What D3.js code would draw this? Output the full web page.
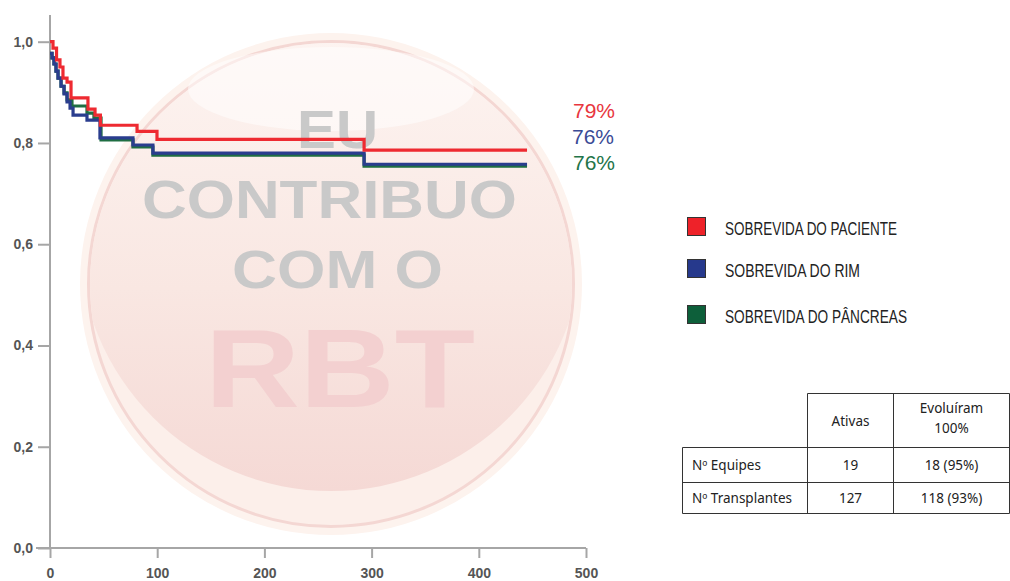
<!DOCTYPE html>
<html>
<head>
<meta charset="utf-8">
<script src="https://cdnjs.cloudflare.com/ajax/libs/d3/7.8.5/d3.min.js"></script>
<style>
  body { margin: 0; background: #fff; }
  .axis path { display: none; }
  .axis line { stroke: #a6a6a6; stroke-width: 2; }
  .axis text { font: bold 14px "Liberation Sans", Arial, sans-serif; fill: #555; }
  .curve { fill: none; stroke-width: 3.2; }
  .wm { font-family: "Liberation Sans", Arial, sans-serif; font-weight: bold; }
  .leg { font-family: "Liberation Sans Narrow", "Liberation Sans", Arial, sans-serif; font-size: 18px; fill: #222; }
  .pct { font-family: "Liberation Sans", Arial, sans-serif; font-size: 21px; }
  .tbl { font-family: "Noto Sans", "Open Sans", sans-serif; font-size: 13.5px; fill: #222; }
</style>
</head>
<body>
<div id="viz"></div>
<script>
  // survival curves: [day, survival]
  var patient = [[0,1.0],[2.8,0.9875],[6.1,0.964],[9.3,0.95],[12.1,0.928],[15.9,0.92],[19.6,0.889],
    [35.4,0.867],[42,0.855],[47,0.835],[81.2,0.823],[99.8,0.807],[293,0.786],[445,0.786]];
  var kidney = [[0,0.977],[1.9,0.968],[3.7,0.956],[5.6,0.942],[7.5,0.928],[10.3,0.912],[13.1,0.897],
    [15.9,0.881],[18.7,0.869],[21.5,0.855],[34.5,0.845],[46.6,0.81],[77.4,0.796],[96,0.78],[293,0.758],[445,0.758]];
  var pancreas = [[0,0.977],[1.9,0.968],[3.7,0.956],[5.6,0.942],[7.5,0.928],[10.3,0.912],[13.1,0.899],
    [15.9,0.885],[20.5,0.873],[34.5,0.859],[41,0.849],[47.6,0.806],[77.4,0.792],[96,0.776],[293,0.754],[445,0.754]];

  var seriesNames = ["SOBREVIDA DO PACIENTE", "SOBREVIDA DO RIM", "SOBREVIDA DO PÂNCREAS"];
  var seriesColors = ["#ee2229", "#26398c", "#0d5f3a"];
  var lineColors = ["#ee2a31", "#2a3d8e", "#1f6e42"];
  var endLabels = ["79%", "76%", "76%"];
  var labelColors = ["#e8363e", "#3b4b96", "#237449"];

  var xTicks = [0, 100, 200, 300, 400, 500];
  var yTicks = [0, 0.2, 0.4, 0.6, 0.8, 1.0];

  var tableHeader = ["Ativas", "Evoluíram|100%"];
  var tableRows = [["Nº Equipes", "19", "18 (95%)"], ["Nº Transplantes", "127", "118 (93%)"]];

  var width = 1010, height = 581;

  var svg = d3.select("#viz").append("svg")
    .attr("width", width)
    .attr("height", height);

  var x = d3.scaleLinear().domain([0, 500]).range([50, 586]);
  var y = d3.scaleLinear().domain([0, 1]).range([548, 41.7]);

  // watermark badge
  var defs = svg.append("defs");
  var lg = defs.append("linearGradient").attr("id", "inner")
    .attr("gradientUnits", "userSpaceOnUse")
    .attr("x1", 0).attr("y1", 40).attr("x2", 0).attr("y2", 491);
  lg.append("stop").attr("offset", "0%").attr("stop-color", "#fdf4f1");
  lg.append("stop").attr("offset", "55%").attr("stop-color", "#f9e7e2");
  lg.append("stop").attr("offset", "100%").attr("stop-color", "#f5d9d5");
  defs.append("clipPath").attr("id", "disk")
    .append("circle").attr("cx", 331).attr("cy", 284).attr("r", 241);

  svg.append("circle").attr("cx", 331).attr("cy", 284).attr("r", 251).attr("fill", "#fdf3ee");
  svg.append("circle").attr("cx", 331).attr("cy", 284).attr("r", 242.5)
    .attr("fill", "#fcefea").attr("stroke", "#f4d7d3").attr("stroke-width", 3);
  svg.append("circle").attr("cx", 331).attr("cy", 239).attr("r", 252)
    .attr("clip-path", "url(#disk)").attr("fill", "url(#inner)");
  svg.append("ellipse").attr("cx", 331).attr("cy", 89).attr("rx", 143).attr("ry", 42)
    .attr("fill", "#fff").attr("opacity", 0.5);

  var wm = [
    {t: "EU", x: 297, y: 148, s: 53, w: 81, c: "#c9c9c9"},
    {t: "CONTRIBUO", x: 142, y: 218, s: 53, w: 375, c: "#c9c9c9"},
    {t: "COM O", x: 232, y: 288, s: 53, w: 211, c: "#c9c9c9"},
    {t: "RBT", x: 205, y: 407, s: 112, w: 270, c: "#f3d0d0"}
  ];
  svg.selectAll(".wm").data(wm).enter().append("text")
    .attr("class", "wm")
    .attr("x", function(d) { return d.x; })
    .attr("y", function(d) { return d.y; })
    .attr("textLength", function(d) { return d.w; })
    .attr("lengthAdjust", "spacingAndGlyphs")
    .style("font-size", function(d) { return d.s + "px"; })
    .style("fill", function(d) { return d.c; })
    .text(function(d) { return d.t; });

  // axes
  svg.append("g").attr("class", "axis")
    .attr("transform", "translate(0," + y(0) + ")")
    .call(d3.axisBottom(x).tickValues(xTicks).tickSize(10).tickPadding(10));

  svg.append("g").attr("class", "axis")
    .attr("transform", "translate(" + x(0) + ",0)")
    .call(d3.axisLeft(y).tickValues(yTicks).tickSize(12).tickPadding(5)
      .tickFormat(function(d) { return d3.format(".1f")(d).replace(".", ","); }));

  svg.append("line").attr("x1", x(0)).attr("x2", x(0)).attr("y1", 15).attr("y2", y(0))
    .attr("stroke", "#a6a6a6").attr("stroke-width", 2);
  svg.append("line").attr("x1", 36).attr("x2", x(500)).attr("y1", y(0)).attr("y2", y(0))
    .attr("stroke", "#a6a6a6").attr("stroke-width", 2);

  // curves
  var line = d3.line()
    .curve(d3.curveStepAfter)
    .x(function(d) { return x(d[0]); })
    .y(function(d) { return y(d[1]); });

  var curves = [pancreas, kidney, patient];
  var curveColors = [lineColors[2], lineColors[1], lineColors[0]];
  curves.forEach(function(c, i) {
    svg.append("path").attr("class", "curve")
      .attr("d", line(c))
      .style("stroke", curveColors[i]);
  });

  // end labels
  var labelY = [118, 144, 170];
  var labelX = [573, 572, 573];
  endLabels.forEach(function(t, i) {
    svg.append("text").attr("class", "pct")
      .attr("x", labelX[i]).attr("y", labelY[i])
      .style("fill", labelColors[i])
      .text(t);
  });

  // legend
  var legY = [217, 259, 305];
  var legW = [172, 135, 182];
  seriesNames.forEach(function(n, i) {
    svg.append("rect")
      .attr("x", 687.5).attr("y", legY[i] + 0.5)
      .attr("width", 18).attr("height", 18)
      .attr("fill", seriesColors[i])
      .attr("stroke", "#333").attr("stroke-width", 1);
    svg.append("text").attr("class", "leg")
      .attr("x", 725).attr("y", legY[i] + 18)
      .attr("textLength", legW[i])
      .attr("lengthAdjust", "spacingAndGlyphs")
      .text(n);
  });

  // table
  var colX = [682.5, 807.5, 893.5, 1009.5];
  var rowY = [393.5, 447.5, 482.5, 513.5];
  var tb = svg.append("g").attr("stroke", "#333").attr("stroke-width", 1);
  tb.append("line").attr("x1", colX[1]).attr("x2", colX[3]).attr("y1", rowY[0]).attr("y2", rowY[0]);
  for (var r = 1; r < rowY.length; r++) {
    tb.append("line").attr("x1", colX[0]).attr("x2", colX[3]).attr("y1", rowY[r]).attr("y2", rowY[r]);
  }
  tb.append("line").attr("x1", colX[0]).attr("x2", colX[0]).attr("y1", rowY[1]).attr("y2", rowY[3]);
  [1, 2, 3].forEach(function(c) {
    tb.append("line").attr("x1", colX[c]).attr("x2", colX[c]).attr("y1", rowY[0]).attr("y2", rowY[3]);
  });

  tableHeader.forEach(function(h, i) {
    var cx = (colX[i + 1] + colX[i + 2]) / 2;
    var parts = h.split("|");
    var t = svg.append("text").attr("class", "tbl").attr("text-anchor", "middle");
    if (parts.length === 1) {
      t.attr("x", cx).attr("y", 426).text(parts[0]);
    } else {
      t.append("tspan").attr("x", cx).attr("y", 413).text(parts[0]);
      t.append("tspan").attr("x", cx).attr("y", 433).text(parts[1]);
    }
  });

  var rowBase = [470, 503];
  tableRows.forEach(function(row, ri) {
    svg.append("text").attr("class", "tbl").attr("x", 692).attr("y", rowBase[ri]).text(row[0]);
    svg.append("text").attr("class", "tbl").attr("text-anchor", "middle")
      .attr("x", (colX[1] + colX[2]) / 2).attr("y", rowBase[ri]).text(row[1]);
    svg.append("text").attr("class", "tbl").attr("text-anchor", "middle")
      .attr("x", (colX[2] + colX[3]) / 2).attr("y", rowBase[ri]).text(row[2]);
  });
</script>
</body>
</html>
